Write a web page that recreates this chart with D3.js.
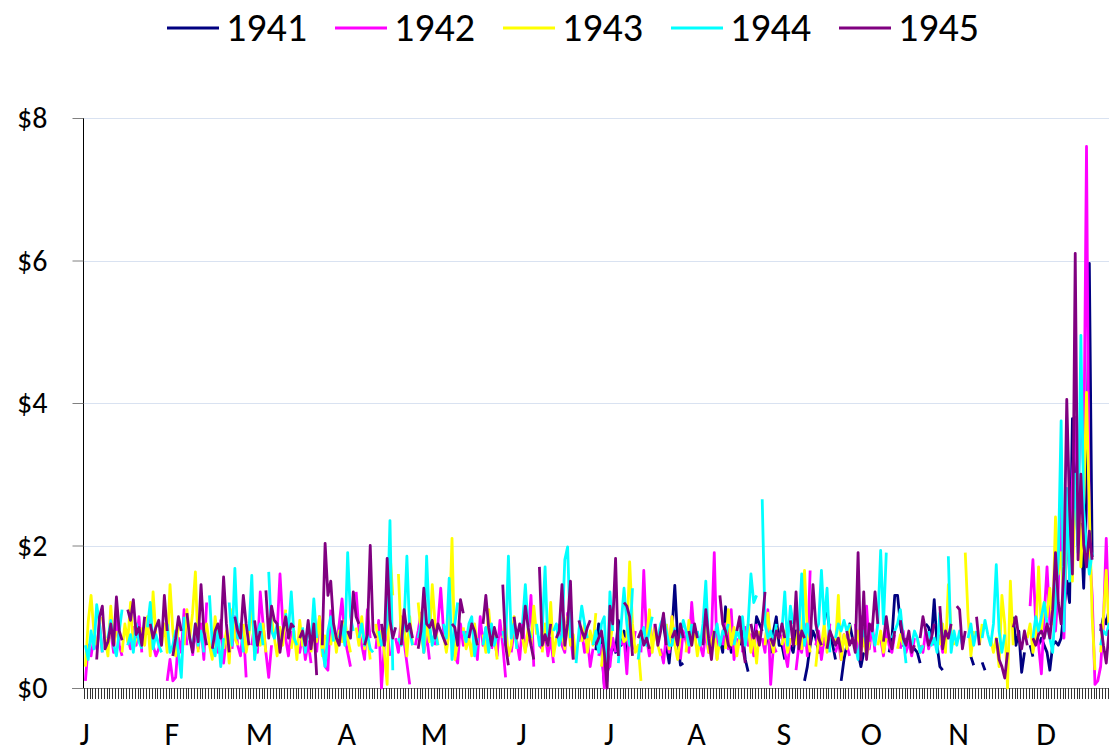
<!DOCTYPE html>
<html><head><meta charset="utf-8">
<script src="https://cdn.jsdelivr.net/npm/d3@7"></script>
<style>body{margin:0;background:#fff;overflow:hidden}svg{display:block}</style>
</head><body><svg id="c" width="1109" height="754"></svg>
<script>
const _ = null;
const years = ["1941","1942","1943","1944","1945"];
const colors = ["#000080","#ff00ff","#ffff00","#00ffff","#800080"];
const monthLabels = ["J","F","M","A","M","J","J","A","S","O","N","D"];
const dayCount = 366;
const labelEvery = 31;
const yTicks = [0,2,4,6,8];

// 1941 (no data before July)
const s1941 = [].concat(
 [_,_,_,_,_,_,_,_,_,_,_,_,_,_,_,_,_,_,_,_,_,_,_,_,_,_,_,_,_,_,_],
 [_,_,_,_,_,_,_,_,_,_,_,_,_,_,_,_,_,_,_,_,_,_,_,_,_,_,_,_,_,_,_],
 [_,_,_,_,_,_,_,_,_,_,_,_,_,_,_,_,_,_,_,_,_,_,_,_,_,_,_,_,_,_,_],
 [_,_,_,_,_,_,_,_,_,_,_,_,_,_,_,_,_,_,_,_,_,_,_,_,_,_,_,_,_,_,_],
 [_,_,_,_,_,_,_,_,_,_,_,_,_,_,_,_,_,_,_,_,_,_,_,_,_,_,_,_,_,_,_],
 [_,_,_,_,_,_,_,_,_,_,_,_,_,_,_,_,_,_,_,_,_,_,_,_,_,_,0.53,0.9,0.6,0.05,0.2],
 [0.4,0.6,0.5,0.95,0.6,0.8,0.42,_,_,_,_,_,_,_,_,_,_,_,_,0.9,0.6,0.35,0.8,1.44,0.7,0.32,0.35,_,_,_,_],
 [_,_,_,_,_,_,_,_,0.7,0.5,1.14,0.8,0.5,0.7,_,0.6,0.8,0.4,0.23,_,0.6,1.0,0.9,0.8,_,0.7,0.5,0.8,1.0,0.6,0.6],
 [0.4,_,0.6,0.5,0.8,0.6,_,0.1,0.3,0.6,0.8,0.7,0.5,0.5,_,1.07,0.8,0.6,0.4,_,0.1,0.4,0.6,0.9,0.7,_,0.5,0.3,0.5,_,_],
 [_,_,_,_,_,_,0.5,0.7,1.3,1.3,0.9,0.6,0.7,_,0.6,0.55,0.5,0.35,_,0.9,0.85,0.7,1.24,0.6,0.3,0.25,_,_,_,_,_],
 [_,_,_,_,0.44,0.32,_,_,0.36,0.25,_,_,_,_,_,_,_,_,_,1.0,0.6,0.8,0.22,0.5,_,0.6,0.44,_,0.6,0.7,0.6],
 [0.5,0.25,0.6,0.65,0.6,0.7,1.1,1.5,1.2,3.78,2.9,2.0,2.3,1.4,2.6,5.96,1.84,_,_,0.8,1.0,0.9,1.1,0.8,1.0]
);

// 1942
const s1942 = [].concat(
 [0.1,0.6,0.45,0.7,0.55,0.9,0.5,_,0.65,0.8,0.5,1.05,0.6,0.45,_,0.7,0.55,0.85,0.6,1.0,0.5,_,0.75,1.05,0.6,0.45,0.55,0.8,_,0.1,0.4],
 [0.1,0.15,0.7,0.5,1.1,0.6,_,0.45,0.8,0.55,0.9,0.4,1.2,_,0.6,0.75,0.5,0.95,0.35,0.7,_,0.55,1.0,0.6,0.45,0.85,0.15,_,0.6,0.9,0.5],
 [1.35,0.9,0.5,0.15,0.6,_,0.8,1.6,0.9,0.7,0.45,0.8,_,0.6,0.5,0.75,0.4,0.65,0.35,_,0.5,1.0,0.7,0.3,0.25,1.1,_,0.6,0.9,1.25,0.7],
 [0.5,0.3,_,1.35,0.8,0.6,0.4,1.1,0.7,_,0.55,0.95,0.0,0.6,0.8,0.45,_,0.7,0.5,1.0,0.65,0.35,0.05,_,0.6,0.8,1.05,0.5,0.75,0.4,_],
 [0.6,0.9,1.4,0.8,0.55,_,0.7,0.45,0.35,0.9,0.6,0.8,_,0.5,0.75,0.4,1.0,0.6,0.85,_,0.55,0.7,0.45,0.95,0.6,0.15,_,0.5,0.8,0.65,0.4],
 [0.9,0.55,0.7,1.3,0.3,_,0.6,0.55,0.8,0.45,0.7,0.35,_,0.9,0.6,0.5,1.05,0.75,0.4,_,0.65,0.8,0.5,0.7,0.3,0.55,_,0.45,0.6,0.0,0.4],
 [0.3,0.7,0.5,_,0.6,0.7,0.2,0.9,0.55,0.8,_,0.5,1.65,0.7,0.45,0.6,0.9,_,0.55,0.35,0.75,0.5,1.0,0.6,_,0.4,0.8,0.65,0.5,1.2,0.7],
 [_,0.6,0.45,0.8,0.5,0.7,1.9,0.4,_,0.6,0.9,0.55,1.1,0.4,0.7,_,0.5,0.85,0.6,0.75,0.45,0.9,_,0.7,0.5,1.1,0.05,0.6,0.5,_,0.75],
 [0.5,0.3,0.7,_,0.25,0.6,0.5,0.9,0.45,1.65,_,0.6,0.8,0.4,0.7,0.55,0.9,_,0.5,0.65,0.4,0.75,0.6,0.45,_,0.9,0.5,1.0,0.6,1.15,0.55],
 [0.9,0.5,_,0.7,0.45,0.85,0.6,0.5,0.75,_,0.55,0.8,0.5,0.65,0.45,0.7,_,0.6,0.5,0.8,0.55,0.7,0.6,_,0.75,0.5,0.65,_,_,_,_],
 [_,_,_,_,_,_,_,_,_,_,_,_,_,_,_,_,_,_,_,_,_,_,_,_,_,1.15,1.8,0.9,0.6,0.2,1.0],
 [1.7,0.9,1.1,0.8,1.4,2.75,0.7,2.3,1.6,2.9,3.8,2.6,4.1,3.0,7.6,2.0,1.3,0.05,0.1,0.3,0.9,2.1,0.9,1.1,0.8]
);

// 1943
const s1943 = [].concat(
 [0.3,0.93,1.3,0.8,0.6,_,1.0,0.7,0.45,1.15,0.6,0.8,_,0.5,0.9,0.65,1.2,0.55,0.7,_,0.85,0.6,1.0,0.45,1.35,0.75,_,0.6,0.9,0.5,1.45],
 [0.8,0.45,0.9,_,0.6,1.1,0.7,1.05,1.63,0.5,_,0.75,0.9,0.6,0.4,1.0,0.65,_,0.55,0.8,0.35,1.1,0.7,0.6,_,0.9,0.5,0.75,1.2,0.45,0.7],
 [0.6,0.9,0.5,_,1.0,0.7,0.45,0.85,0.6,1.1,_,0.55,0.8,0.4,0.95,0.6,0.7,_,0.5,0.85,0.65,1.0,0.45,0.75,_,0.6,0.9,0.5,0.8,0.65,0.95],
 [0.7,0.5,_,0.85,0.6,1.0,0.55,0.75,0.4,_,0.9,0.6,0.8,0.5,0.05,1.9,1.3,_,1.6,0.7,0.9,0.45,1.0,0.6,_,1.2,0.8,0.5,0.9,0.65,1.45],
 [0.9,0.6,_,0.75,0.5,0.8,2.1,0.4,0.65,_,0.85,0.55,0.7,0.45,0.9,0.6,_,0.75,0.5,1.1,0.65,0.8,0.4,_,0.7,0.9,0.45,0.6,1.0,0.55,_],
 [0.7,0.5,0.85,0.6,1.15,0.75,_,0.5,0.9,0.6,1.2,0.45,0.7,_,0.8,0.55,1.0,0.6,0.75,0.4,_,0.65,0.9,0.5,0.8,0.6,1.05,_,0.3,0.7,0.5],
 [0.6,0.9,_,0.55,0.8,0.65,0.7,1.77,0.9,0.5,0.6,0.1,_,0.7,1.1,0.5,0.85,0.6,0.45,_,0.9,0.55,1.0,0.6,0.4,0.75,_,0.5,0.95,0.6,0.8],
 [0.45,0.7,_,0.9,0.5,0.65,0.8,0.4,0.7,_,0.55,1.1,0.6,0.85,0.45,0.7,_,0.6,0.9,0.5,0.75,0.35,0.8,_,0.6,1.05,0.7,0.5,0.85,_,0.6],
 [0.8,0.5,0.7,_,0.6,0.9,0.55,1.65,0.8,0.5,_,0.3,0.7,0.6,0.9,0.5,0.8,_,0.6,1.3,0.4,0.75,0.55,0.9,_,0.6,0.8,0.5,0.7,0.45,0.65],
 [_,_,0.6,0.8,0.5,0.7,_,_,_,0.55,0.75,0.6,_,_,_,_,0.7,0.5,0.6,_,_,_,_,_,0.6,0.9,0.5,1.45,0.8,0.6,_],
 [0.7,_,1.9,1.0,0.45,0.8,_,0.6,0.9,_,_,0.7,0.5,0.7,0.3,1.3,0.9,0.0,1.5,0.6,_,_,_,_,0.7,0.9,0.5,0.7,1.7,0.8,1.2],
 [1.0,1.4,0.9,2.4,1.6,1.9,1.2,2.2,2.0,1.5,2.8,3.0,1.7,2.6,4.15,2.5,1.0,0.25,_,0.5,1.0,1.65,0.8,1.2,0.9]
);

// 1944
const s1944 = [].concat(
 [0.6,0.4,0.8,0.55,1.17,0.9,0.5,_,0.7,0.95,0.6,0.45,0.8,1.1,_,0.6,0.75,0.5,0.9,0.65,0.55,_,0.85,1.2,0.55,0.75,0.6,0.5,_,0.9,0.5],
 [0.6,0.8,0.5,0.15,1.0,_,0.7,0.55,0.9,0.6,0.8,0.5,_,1.3,0.6,0.45,0.8,0.3,0.7,_,1.2,0.6,1.68,0.7,0.9,0.5,_,0.8,1.58,0.4,0.75],
 [0.9,0.6,_,1.63,0.8,0.7,0.9,0.55,_,1.05,0.8,1.35,0.7,0.6,_,0.85,0.5,0.9,0.6,1.25,0.7,_,0.55,0.3,0.8,1.0,0.65,_,0.7,0.9,0.6],
 [1.9,1.0,0.8,_,0.7,0.9,0.6,0.75,0.55,0.5,_,0.8,0.6,0.7,0.9,2.35,0.25,_,0.7,0.6,0.9,1.85,0.8,0.6,_,0.7,0.9,0.5,1.85,0.9,0.6],
 [0.8,0.6,_,0.9,0.7,1.54,0.4,0.9,1.2,_,0.8,0.65,0.9,1.0,0.45,0.7,_,0.6,0.85,0.5,0.9,0.6,0.75,_,0.8,0.6,1.85,0.7,0.9,0.55,_],
 [0.9,1.45,0.85,0.7,_,0.9,0.6,0.8,1.7,0.6,_,0.8,0.9,0.6,0.75,1.8,1.98,0.7,_,0.35,0.8,1.15,0.9,0.7,_,0.6,0.8,0.5,0.9,1.0,0.1],
 [1.35,0.8,_,0.35,0.9,1.4,0.9,0.6,1.4,_,0.4,0.7,0.85,0.6,0.8,1.0,_,0.7,0.9,1.0,0.8,0.6,0.6,0.85,_,0.7,0.95,0.8,0.6,0.9,_],
 [0.8,0.6,0.9,1.5,0.6,_,0.7,0.9,0.6,0.8,0.75,0.9,_,0.6,0.8,0.7,1.0,0.6,0.9,1.6,1.2,1.3,_,2.65,0.9,0.7,0.8,0.6,0.9,_,0.8],
 [1.35,0.6,1.15,0.9,_,0.8,1.6,0.6,0.9,0.7,_,0.8,0.9,1.65,0.9,1.4,0.5,_,0.7,0.9,0.8,0.95,0.8,0.9,_,0.6,0.4,0.7,0.8,0.6,_],
 [0.8,0.6,0.9,1.93,0.9,1.9,_,0.7,0.8,0.9,1.1,0.7,0.35,_,0.6,0.8,0.7,0.5,0.6,_,0.8,0.6,0.7,0.5,1.05,0.7,_,1.85,0.5,0.8,0.6],
 [0.8,0.6,_,0.7,0.9,0.6,0.8,_,0.7,0.95,0.75,0.6,0.9,1.73,0.8,0.5,0.75,_,_,_,_,_,_,_,_,_,0.7,1.0,0.8,1.0,1.2],
 [0.9,0.7,0.5,1.2,1.8,3.75,0.8,2.8,1.5,2.2,3.0,1.9,4.95,2.5,2.0,1.6,1.9,_,_,0.6,0.8,0.75,0.9,0.7,0.8]
);

// 1945
const s1945 = [].concat(
 [_,_,_,_,0.4,1.0,1.15,0.55,0.65,0.9,0.6,1.28,0.8,0.67,_,1.1,0.95,1.24,0.75,0.85,0.6,1.0,_,0.9,0.7,0.85,0.95,0.6,1.3,0.8,_],
 [0.45,0.7,1.0,0.8,_,1.05,0.7,0.5,0.9,0.65,1.45,0.8,0.6,_,0.55,0.8,0.9,0.7,1.56,0.9,0.5,_,1.0,0.8,0.7,1.3,0.9,0.6,_,0.95,0.6],
 [0.8,_,1.37,0.7,1.15,0.95,0.9,0.5,0.8,1.0,0.7,0.9,0.85,_,0.7,0.8,0.6,0.95,0.55,0.9,0.18,_,0.6,2.03,1.3,1.5,0.9,0.7,0.6,0.95,_],
 [0.8,0.7,1.35,1.0,0.9,_,0.6,0.75,2.0,0.8,0.7,_,0.9,0.6,1.82,0.95,0.7,0.85,_,0.6,1.1,0.8,0.9,0.7,_,0.55,0.8,1.4,0.9,0.85,0.95],
 [0.7,0.9,0.8,0.7,0.6,_,0.9,0.85,0.6,1.24,1.05,_,0.7,0.9,0.8,0.6,_,0.9,1.3,0.85,0.6,0.85,0.7,_,1.45,0.6,0.32,_,1.0,0.7,0.9],
 [0.7,1.15,0.85,0.6,0.4,_,1.7,0.6,0.75,0.6,0.9,_,0.7,0.8,1.45,0.6,0.9,1.5,0.4,_,0.95,0.8,0.7,0.85,0.95,_,0.6,0.7,0.8,0.5,0.0],
 [1.15,0.9,1.82,0.45,_,1.2,1.15,1.0,0.45,_,0.7,0.8,0.6,0.7,0.55,_,0.9,0.6,0.8,1.05,0.6,_,0.7,0.8,0.6,0.9,0.7,_,0.8,0.6,0.9],
 [0.7,_,0.6,1.1,0.7,0.4,0.8,_,1.3,0.9,0.8,0.6,0.55,_,0.8,1.0,0.6,0.35,_,0.9,0.7,0.8,0.6,0.9,1.35,_,0.7,0.6,0.8,0.7,0.9],
 [0.7,_,0.95,0.6,1.35,0.55,0.8,0.7,_,0.6,1.45,0.9,0.7,0.6,_,0.55,0.8,0.7,0.6,0.7,0.5,_,0.8,0.6,0.7,0.5,1.9,0.4,1.35,0.4,0.9],
 [0.8,1.35,0.9,_,0.65,1.0,0.7,0.55,0.8,_,0.95,0.7,0.6,0.8,0.5,0.6,_,0.7,1.0,0.8,0.6,0.7,0.9,_,1.15,0.55,0.8,0.7,0.9,_,1.15],
 [1.1,0.55,0.8,_,_,_,1.0,0.6,_,_,_,_,_,0.7,0.4,0.3,0.14,0.5,_,0.85,1.0,0.7,0.55,0.8,0.6,_,0.7,0.6,0.75,0.8,0.7],
 [0.9,0.7,1.1,1.9,1.2,0.9,1.7,4.05,2.5,1.6,6.1,1.8,3.0,2.0,1.7,2.2,1.8,_,_,0.9,0.6,0.35,0.8,0.6,0.9]
);

const seriesValues = [s1941, s1942, s1943, s1944, s1945];

(function draw() {
const svg = d3.select("#c");
svg.append("rect").attr("width",1109).attr("height",754).attr("fill","#fff");

const plotLeft = 84, plotTop = 118, plotBottom = 688, step = 2.82;
const x = d3.scaleLinear().domain([0, dayCount]).range([plotLeft, plotLeft + dayCount*step]);
const y = d3.scaleLinear().domain([0, 8]).range([plotBottom, plotTop]);
const font = "Carlito, 'Liberation Sans', Arial, sans-serif";

// gridlines
svg.append("g").selectAll("line").data(yTicks.filter(v => v > 0)).join("line")
  .attr("x1", plotLeft).attr("x2", 1109)
  .attr("y1", d => Math.round(y(d)) + 0.5).attr("y2", d => Math.round(y(d)) + 0.5)
  .attr("stroke", "#d9e2f1").attr("stroke-width", 1);

// x ticks (every day)
const xTickAxis = d3.axisBottom(x).tickValues(d3.range(0, dayCount + 1)).tickSize(11).tickFormat("");
const gx = svg.append("g").attr("transform", `translate(0,${plotBottom})`).call(xTickAxis);
gx.select(".domain").attr("stroke", "#868686").attr("d", `M72,0.5H1109`);
gx.selectAll(".tick line").attr("stroke", "#333").attr("shape-rendering", "crispEdges");

// x labels
const xLabelAxis = d3.axisBottom(x)
  .tickValues(monthLabels.map((m, i) => i * labelEvery))
  .tickSize(0).tickPadding(0)
  .tickFormat(d => monthLabels[d / labelEvery]);
const gxl = svg.append("g").attr("transform", `translate(0,${plotBottom})`).call(xLabelAxis);
gxl.select(".domain").remove();
gxl.selectAll("text").attr("font-family", font).attr("font-size", 32).attr("fill", "#000")
  .attr("y", 57).attr("dy", null);

// y axis
const yAxis = d3.axisLeft(y).tickValues(yTicks).tickSize(11).tickPadding(25).tickFormat(d => "$" + d);
const gy = svg.append("g").attr("transform", `translate(${plotLeft - 0.5},0)`).call(yAxis);
gy.select(".domain").attr("stroke", "#000").attr("d", `M0,${plotTop}V${plotBottom}`);
gy.selectAll(".tick line").attr("stroke", "#808080");
gy.selectAll("text").attr("font-family", font).attr("font-size", 30).attr("fill", "#000");

// lines
const line = d3.line()
  .defined(d => d != null)
  .x((d, i) => x(i + 0.5))
  .y(d => y(d));

svg.append("g").selectAll("path").data(seriesValues).join("path")
  .attr("d", d => line(d))
  .attr("fill", "none")
  .attr("stroke", (d, i) => colors[i])
  .attr("stroke-width", 2.8)
  .attr("stroke-linejoin", "round");

// legend
const lg = svg.append("g").selectAll("g").data(years).join("g")
  .attr("transform", (d, i) => `translate(${167 + i*168},0)`);
lg.append("line").attr("x1", 0).attr("x2", 52).attr("y1", 28).attr("y2", 28)
  .attr("stroke", (d, i) => colors[i]).attr("stroke-width", 3);
lg.append("text").attr("x", 59).attr("y", 41).text(d => d)
  .attr("font-family", font).attr("font-size", 40).attr("fill", "#000");
})();
</script>
</body></html>
